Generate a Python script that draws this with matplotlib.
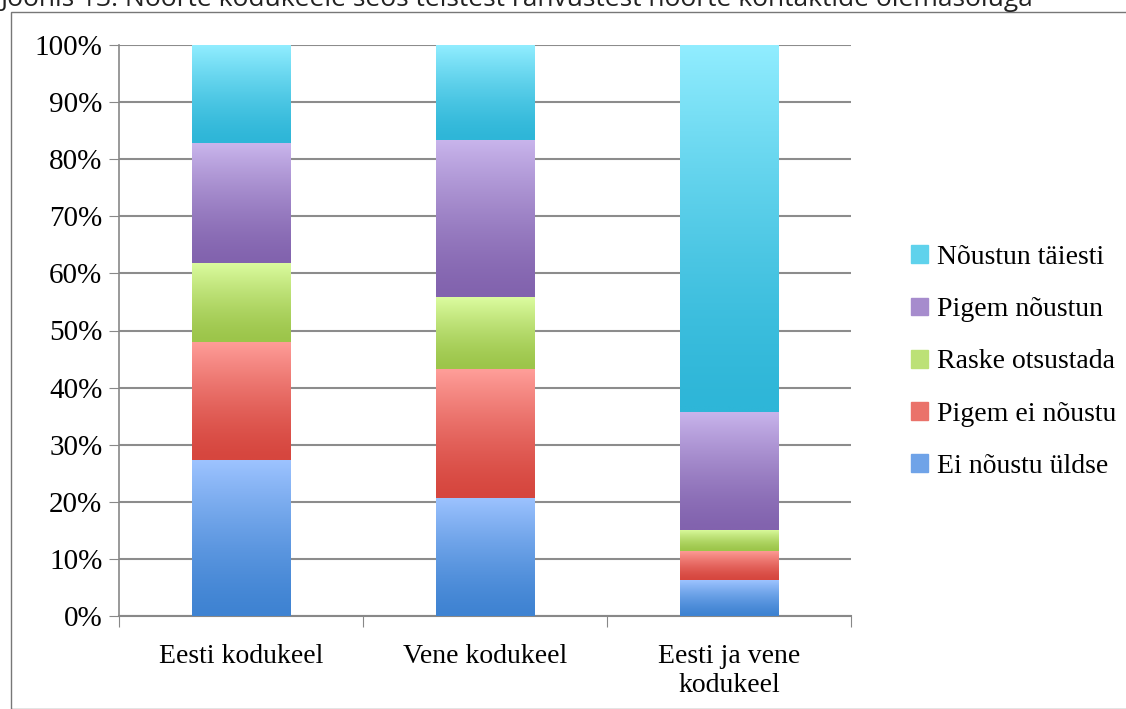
import numpy as np
import matplotlib.pyplot as plt
from matplotlib.colors import LinearSegmentedColormap
from matplotlib.patches import Rectangle

categories = ["Eesti kodukeel", "Vene kodukeel", "Eesti ja vene\nkodukeel"]
series = ["Ei nõustu üldse", "Pigem ei nõustu", "Raske otsustada", "Pigem nõustun", "Nõustun täiesti"]
ei_noustu = [27.3, 20.7, 6.3]
pigem_ei = [20.7, 22.5, 5.1]
raske = [13.9, 12.6, 3.7]
pigem_jah = [21.0, 27.6, 20.7]
taiesti = [17.1, 16.6, 64.2]
values = [ei_noustu, pigem_ei, raske, pigem_jah, taiesti]

# (top colour, bottom colour) for each series
grads = [("#9dc3ff", "#3f83d2"), ("#ff9e99", "#d6463e"), ("#dcfca0", "#9cc54a"),
         ("#c9b5ec", "#8263ae"), ("#91edff", "#2eb6d8")]
mids = ["#6fa3e8", "#ea726a", "#bce176", "#a68ccd", "#5fd2ec"]

plt.rcParams['font.family'] = ['Liberation Serif', 'DejaVu Serif']

fig = plt.figure(figsize=(11.26, 7.09), dpi=100)
ax = fig.add_axes([119/1126, 1-616/709, 732/1126, 571/709])

x = np.arange(len(categories))
bottom = np.zeros(len(categories))
grad = np.linspace(0, 1, 256).reshape(-1, 1) ** 1.4
handles = []
for vals, (c_top, c_bot), name in zip(values, grads, series):
    cmap = LinearSegmentedColormap.from_list(name, [c_bot, c_top])
    bars = ax.bar(x, vals, 0.405, bottom=bottom, color=c_top, edgecolor="none", zorder=3, label=name)
    for r in bars:
        x0, y0 = r.get_x(), r.get_y()
        im = ax.imshow(grad, cmap=cmap, aspect="auto", origin="lower",
                       extent=[x0, x0 + r.get_width(), y0, y0 + r.get_height()], zorder=4)
        im.set_clip_path(r)
    handles.append(bars)
    bottom += np.array(vals)

ax.set_xlim(-0.5, 2.5)
ax.set_ylim(0, 100)
ax.set_yticks(np.arange(0, 101, 10))
ax.set_yticklabels([f"{v}%" for v in range(0, 101, 10)], fontsize=21)
ax.set_xticks([-0.5, 0.5, 1.5, 2.5])
ax.set_xticklabels([])
ax.set_xticks(x, minor=True)
ax.set_xticklabels(categories, minor=True, fontsize=20, linespacing=1.2)
ax.tick_params(axis="x", which="minor", length=0, pad=20)
ax.tick_params(axis="x", which="major", length=8, color="#888888", direction="out")
ax.tick_params(axis="y", length=7, color="#888888", pad=5)
ax.yaxis.grid(True, color="#8c8c8c", linewidth=1.5, zorder=0)
ax.set_axisbelow(True)
for s in ["top", "right"]:
    ax.spines[s].set_visible(False)
ax.spines["left"].set_color("#888888")
ax.spines["bottom"].set_color("#888888")
ax.spines["left"].set_linewidth(1.2)
ax.spines["bottom"].set_linewidth(1.5)

leg = fig.legend(handles[::-1], series[::-1], loc="center left", bbox_to_anchor=(886/1126, 1-362/709),
                 frameon=False, fontsize=20, handlelength=0.6, handleheight=0.6,
                 handletextpad=0.35, labelspacing=0.98)
for h, c in zip(leg.legend_handles, mids[::-1]):
    h.set_color(c)

fig.patches.append(Rectangle((11/1126, 0), 1.2, 1-12/709, transform=fig.transFigure,
                             fill=False, edgecolor="#777777", linewidth=1.0))
fig.text(0.0, 1.0, "Joonis 13. Noorte kodukeele seos teistest rahvustest noorte kontaktide olemasoluga",
         fontsize=19, family="Open Sans", va="center", ha="left", color="#222222")

fig.savefig("out.png", dpi=100)
